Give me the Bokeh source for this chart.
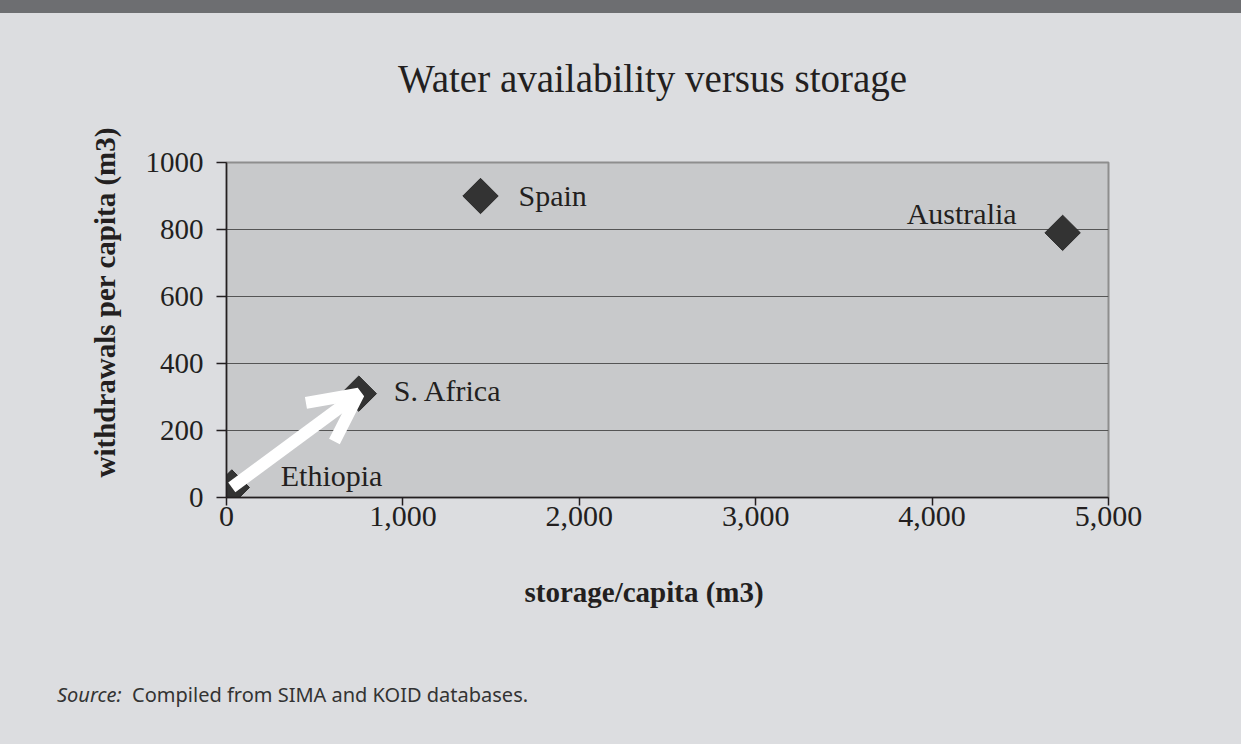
import math
from bokeh.plotting import figure
from bokeh.models import (ColumnDataSource, Range1d, FixedTicker, NumeralTickFormatter,
                          Title, Arrow, OpenHead, Div)
from bokeh.layouts import column
from bokeh.embed import file_html
from bokeh.resources import INLINE
from bokeh.core.properties import value

# ---------------- data ----------------
countries = ["Ethiopia", "S. Africa", "Spain", "Australia"]
storage_per_capita = [30, 750, 1440, 4740]        # m3
withdrawals_per_capita = [30, 310, 900, 790]      # m3
x_ticks = [0, 1000, 2000, 3000, 4000, 5000]
y_ticks = [0, 200, 400, 600, 800, 1000]

title_text = "Water availability versus storage"
x_title = "storage/capita (m3)"
y_title = "withdrawals per capita (m3)"
source_label = "Source:"
source_text = "Compiled from SIMA and KOID databases."

# ---------------- layout / style ----------------
W = 1241
BAND_H = 13
HEAD_H = 108              # header block (band + title), page y 0..108
FIG_TOP = HEAD_H
FIG_BOTTOM = 660
FIG_H = FIG_BOTTOM - FIG_TOP
SRC_H = 744 - FIG_BOTTOM
# frame in page pixels
FL, FR, FT, FB = 226, 1108, 162, 497

BG = "#dcdde0"
PLOT_BG = "#c8c9cb"
INK = "#231f20"
SERIF = "Liberation Serif"

# label placement (screen px, y down) per country
lbl_dx = {"Ethiopia": 49, "S. Africa": 35, "Spain": 38, "Australia": -46}
lbl_dy = {"Ethiopia": -12, "S. Africa": -3, "Spain": -1, "Australia": -19}
lbl_align = {"Ethiopia": "left", "S. Africa": "left", "Spain": "left", "Australia": "right"}

src = ColumnDataSource(dict(
    name=countries,
    x=storage_per_capita,
    y=withdrawals_per_capita,
    dx=[lbl_dx[c] for c in countries],
    dy=[lbl_dy[c] for c in countries],
    align=[lbl_align[c] for c in countries],
))

p = figure(width=W, height=FIG_H, output_backend="svg", toolbar_location=None,
           x_range=Range1d(0, 5000), y_range=Range1d(0, 1000),
           min_border_left=FL, min_border_right=W - FR,
           min_border_top=FT - FIG_TOP, min_border_bottom=FIG_BOTTOM - FB,
           title=None, margin=0)

p.border_fill_color = BG
p.background_fill_color = PLOT_BG
p.outline_line_color = "#8e8e8e"
p.outline_line_width = 2

p.xgrid.visible = False
p.ygrid.grid_line_color = "#555555"
p.ygrid.grid_line_width = 1
p.ygrid.ticker = FixedTicker(ticks=y_ticks)

p.xaxis.ticker = FixedTicker(ticks=x_ticks)
p.yaxis.ticker = FixedTicker(ticks=y_ticks)
p.xaxis.formatter = NumeralTickFormatter(format="0,0")

for ax in (p.xaxis[0], p.yaxis[0]):
    ax.axis_line_color = INK
    ax.axis_line_width = 1.5
    ax.major_tick_line_color = INK
    ax.major_tick_line_width = 1.5
    ax.major_tick_in = 0
    ax.minor_tick_line_color = None
    ax.major_label_text_font = SERIF
    ax.major_label_text_color = INK

p.xaxis.major_label_text_font_size = "30px"
p.yaxis.major_label_text_font_size = "29px"
p.xaxis.major_tick_out = 8
p.xaxis.major_label_standoff = 1
p.yaxis.major_tick_out = 10
p.yaxis.major_label_standoff = 13

# markers
p.scatter("x", "y", source=src, marker="square", angle=math.pi / 4, size=25,
          fill_color="#333333", line_color="#2a2a2a")

# point labels
p.text("x", "y", text="name", source=src, x_offset="dx", y_offset="dy",
       text_align="align", text_baseline="alphabetic",
       text_font=value(SERIF), text_font_size="30px", text_color=INK)

# white arrow Ethiopia -> S. Africa
i0 = countries.index("Ethiopia")
i1 = countries.index("S. Africa")
p.add_layout(Arrow(x_start=storage_per_capita[i0], y_start=withdrawals_per_capita[i0],
                   x_end=storage_per_capita[i1], y_end=withdrawals_per_capita[i1],
                   line_color="white", line_width=12,
                   end=OpenHead(size=48, line_color="white", line_width=12)))

# axis titles
p.add_layout(Title(text=x_title, align="left", offset=524 - FL, standoff=91,
                   text_font=SERIF, text_font_size="29px", text_font_style="bold",
                   text_color=INK), "below")
p.add_layout(Title(text=y_title, align="left", offset=FB - 477, standoff=44,
                   text_font=SERIF, text_font_size="29px", text_font_style="bold",
                   text_color=INK), "left")

# header: dark band + chart title
head_html = ('<div style="width:%dpx;height:%dpx;background-color:#6d6e71;"></div>'
             '<div style="padding:43px 0 0 398px; font-family:\'Liberation Serif\'; '
             'font-size:39px; line-height:46px; color:%s; white-space:nowrap;">%s</div>'
             % (W, BAND_H, INK, title_text))
header = Div(text=head_html, width=W, height=HEAD_H, margin=0,
             styles={"background-color": BG})

src_html = ('<div style="padding:23px 0 0 57px; font-family:\'Noto Sans\'; '
            'font-size:20px; line-height:24px; color:#333333; white-space:nowrap;">'
            '<i>' + source_label + '</i>&nbsp; ' + source_text + '</div>')
source_div = Div(text=src_html, width=W, height=SRC_H, margin=0,
                 styles={"background-color": BG})

layout = column(header, p, source_div, spacing=0, styles={"background-color": BG})

open("out.html", "w").write(file_html(layout, INLINE))
